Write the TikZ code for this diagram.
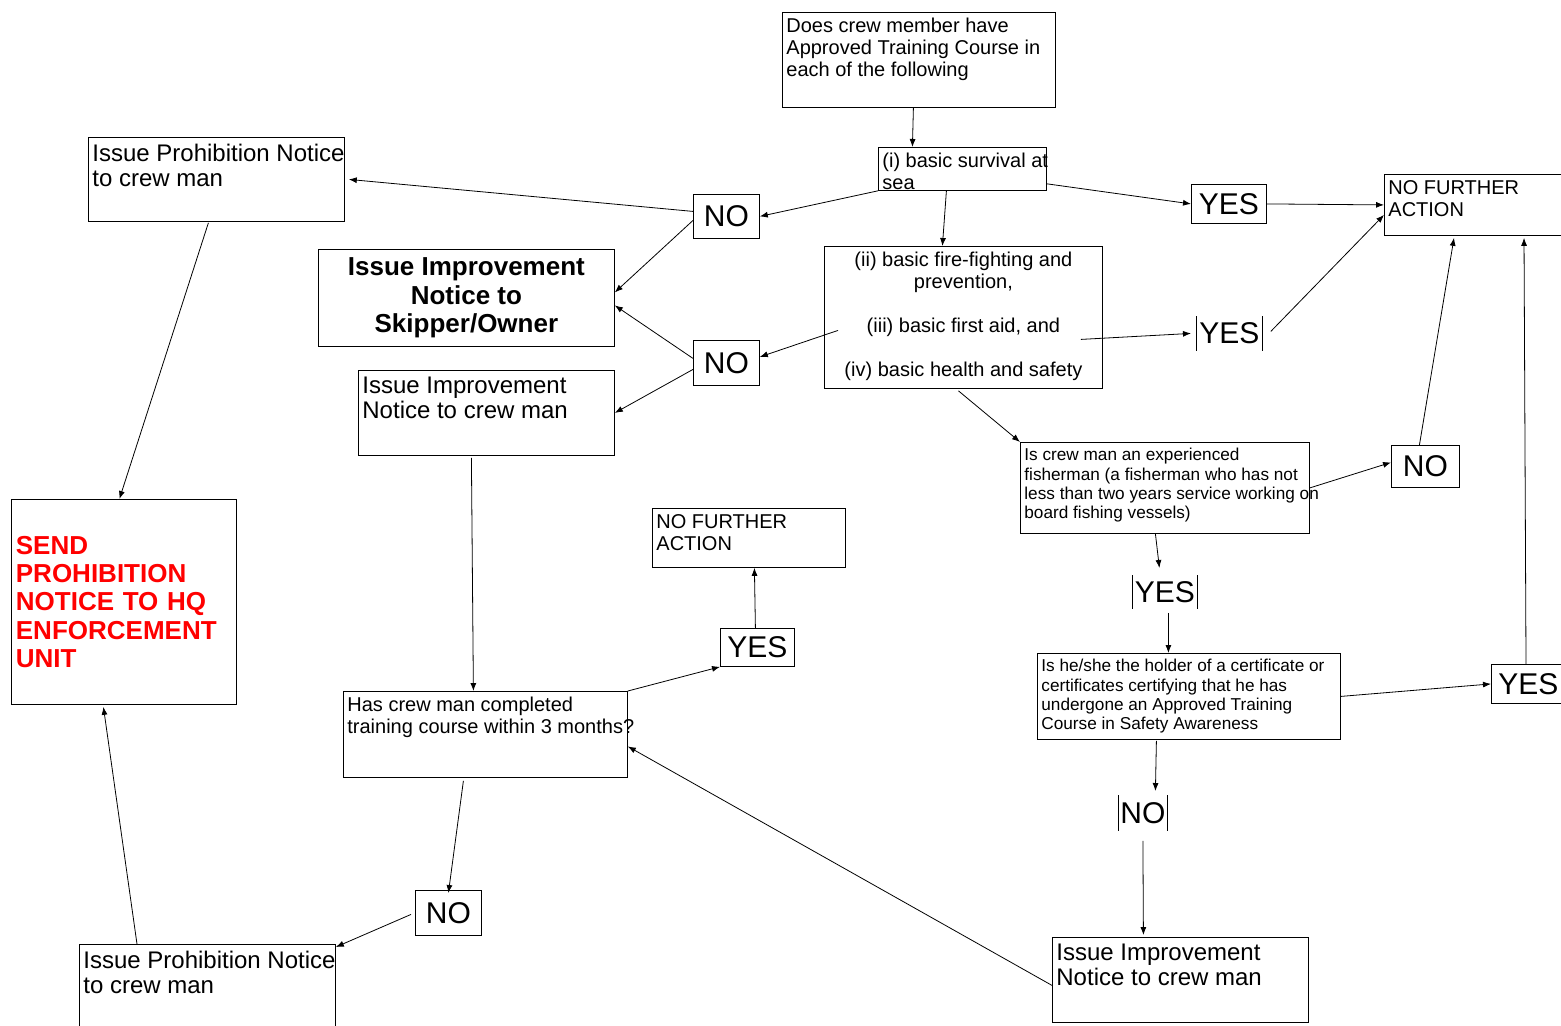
\documentclass[tikz,border=0pt]{standalone}
\usepackage{fontspec}
\setmainfont{Liberation Sans}
\usetikzlibrary{arrows.meta}
\begin{document}
\begin{tikzpicture}[x=0.5pt,y=-0.5pt]
        \tikzset{box/.style={draw, anchor=north west, inner sep=0pt},
            note/.style={anchor=north west, align=left, inner sep=2pt, yshift=-1pt, font=\fontsize{10}{11}\selectfont},
            bignote/.style={note, yshift=-0.5pt, font=\fontsize{12}{12.5}\selectfont},
            smallnote/.style={note, font=\fontsize{8.6}{9.6}\selectfont},
            answer/.style={box, font=\fontsize{15}{15}\selectfont},
            open answer/.style={anchor=north west, inner sep=0pt, font=\fontsize{15}{15}\selectfont,
                append after command={(\tikzlastnode.north west) edge (\tikzlastnode.south west)
                    (\tikzlastnode.north east) edge (\tikzlastnode.south east)}},
            link/.style={-{Latex[length=4pt,width=3pt]}}}
        \clip (0,0) rectangle (1561,1025);
        % questions
        \node (q1) [box, minimum width=136.5pt, minimum height=47.5pt,
            label={[note]north west:Does crew member have\\Approved Training Course in\\each of the following}] at (782,12) {};
        \node (basic) [box, minimum width=84pt, minimum height=21.5pt,
            label={[note]north west:(i) basic survival at\\sea}] at (878,147) {};
        \node (q2) [box, minimum width=139pt, minimum height=71pt,
            label={[note, anchor=north, align=center]north:{(ii) basic fire-fighting and\\prevention,\\[11pt](iii) basic first aid, and\\[11pt](iv) basic health and safety}}] at (824,246) {};
        \node (exp) [box, minimum width=144.5pt, minimum height=45.5pt,
            label={[smallnote]north west:Is crew man an experienced\\fisherman (a fisherman who has not\\less than two years service working on\\board fishing vessels)}] at (1020,442) {};
        \node (cert) [box, minimum width=151.5pt, minimum height=43pt,
            label={[smallnote]north west:Is he/she the holder of a certificate or\\certificates certifying that he has\\undergone an Approved Training\\Course in Safety Awareness}] at (1037,653) {};
        \node (comp) [box, minimum width=142pt, minimum height=43pt,
            label={[note]north west:Has crew man completed\\training course within 3 months?}] at (343,691) {};
        % outcomes
        \node (nfa1) [box, minimum width=100pt, minimum height=30.5pt,
            label={[note]north west:NO FURTHER\\ACTION}] at (1384,174) {};
        \node (nfa2) [box, minimum width=96.5pt, minimum height=29.5pt,
            label={[note]north west:NO FURTHER\\ACTION}] at (652,508) {};
        \node (pro1) [box, minimum width=128pt, minimum height=42pt,
            label={[bignote]north west:Issue Prohibition Notice\\to crew man}] at (88,137) {};
        \node (pro2) [box, minimum width=128pt, minimum height=50pt,
            label={[bignote]north west:Issue Prohibition Notice\\to crew man}] at (79,944) {};
        \node (impCrew1) [box, minimum width=128pt, minimum height=42.5pt,
            label={[bignote]north west:Issue Improvement\\Notice to crew man}] at (358,370) {};
        \node (impCrew2) [box, minimum width=128pt, minimum height=42.5pt,
            label={[bignote]north west:Issue Improvement\\Notice to crew man}] at (1052,937) {};
        \node (impSk) [box, minimum width=148pt, minimum height=48.5pt, align=center,
            font=\bfseries\fontsize{13}{14.3}\selectfont] at (318,249) {Issue Improvement\\Notice to\\Skipper/Owner};
        \node (send) [box, minimum width=112.5pt, minimum height=102.5pt, text width=108pt, align=left,
            text=red, font=\bfseries\fontsize{13}{14.2}\selectfont] at (11,499) {SEND\\PROHIBITION\\NOTICE TO HQ\\ENFORCEMENT\\UNIT};
        % answers
        \node (noA) [answer, minimum width=33pt, minimum height=22pt] at (693,194) {NO};
        \node (yesA) [answer, minimum width=37.5pt, minimum height=19.5pt] at (1191,184) {YES};
        \node (noB) [answer, minimum width=33pt, minimum height=22.5pt] at (693,340) {NO};
        \node (yesB) [open answer, minimum width=33pt, minimum height=17pt] at (1196,316) {YES};
        \node (noC) [answer, minimum width=34pt, minimum height=21pt] at (1391,445) {NO};
        \node (yesC) [open answer, minimum width=32.5pt, minimum height=16.5pt] at (1132,575) {YES};
        \node (yesD) [answer, minimum width=37pt, minimum height=19.5pt] at (1491,664) {YES};
        \node (noD) [open answer, minimum width=24.5pt, minimum height=17.5pt] at (1118,795) {NO};
        \node (yesE) [answer, minimum width=37pt, minimum height=19pt] at (720,628) {YES};
        \node (noE) [answer, minimum width=33pt, minimum height=22.5pt] at (415,890) {NO};
        % connectors
        \draw[link] ([xshift=-2.75pt]q1.south) -- ([xshift=-25pt]basic.north);
        \draw[link] (basic.south west) -- (noA.east);
        \draw[link] ([yshift=3.5pt]basic.south east) -- (yesA.west);
        \draw[link] ([xshift=-8pt]basic.south) -- ([xshift=-10.5pt]q2.north);
        \draw[link] (yesA.east) -- (nfa1.west);
        \draw[link] ([yshift=2.5pt]noA.west) -- ([xshift=2pt]pro1.east);
        \draw[link] ([yshift=-2pt]noA.west) -- ([yshift=2.75pt]impSk.east);
        \draw[link] ([xshift=7pt,yshift=-6.5pt]q2.west) -- ([yshift=3pt]noB.east);
        \draw[link] ([xshift=-11pt,yshift=-11pt]q2.east) -- ([xshift=-2.5pt]yesB.west);
        \draw[link] ([xshift=4pt,yshift=1pt]yesB.east) -- ([yshift=-5pt]nfa1.west);
        \draw[link] ([yshift=2.25pt]noB.west) -- ([yshift=-3.75pt]impSk.east);
        \draw[link] ([yshift=-3.25pt]noB.west) -- (impCrew1.east);
        \draw[link] ([xshift=-2.5pt,yshift=-1pt]q2.south) -- (exp.north west);
        \draw[link] (exp.east) -- ([yshift=2pt]noC.west);
        \draw[link] ([xshift=-3pt]noC.north) -- ([xshift=35pt,yshift=-1pt]nfa1.south west);
        \draw[link] ([xshift=-4.75pt]exp.south) -- ([xshift=-2.75pt,yshift=3.5pt]yesC.north);
        \draw[link] ([xshift=1.75pt,yshift=-2pt]yesC.south) -- ([xshift=-10.25pt]cert.north);
        \draw[link] (cert.east) -- (yesD.west);
        \draw[link] ([xshift=17.5pt]yesD.north west) -- ([xshift=70pt,yshift=-1pt]nfa1.south west);
        \draw[link] ([xshift=-16.25pt,yshift=-0.5pt]cert.south) -- ([xshift=6.25pt,yshift=2pt]noD.north);
        \draw[link] ([yshift=-5pt]noD.south) -- ([xshift=-18.5pt,yshift=1pt]impCrew2.north);
        \draw[link] ([yshift=-2.75pt]impCrew2.west) -- ([yshift=-6pt]comp.east);
        \draw[link] ([xshift=-7.5pt,yshift=-1pt]impCrew1.south) -- ([xshift=-6pt]comp.north);
        \draw[link] (comp.north east) -- (yesE.south west);
        \draw[link] ([xshift=-1pt]yesE.north) -- ([xshift=2.75pt]nfa2.south);
        \draw[link] ([xshift=-11pt,yshift=-1.5pt]comp.south) -- ([yshift=-1.5pt]noE.north);
        \draw[link] ([xshift=-2pt,yshift=-0.75pt]noE.west) -- ([yshift=-1.5pt]pro2.north east);
        \draw[link] ([xshift=29pt]pro2.north west) -- ([xshift=-10.25pt,yshift=-1pt]send.south);
        \draw[link] ([xshift=-4pt,yshift=-0.5pt]pro1.south) -- ([xshift=-2.25pt]send.north);
    \end{tikzpicture}
\end{document}
